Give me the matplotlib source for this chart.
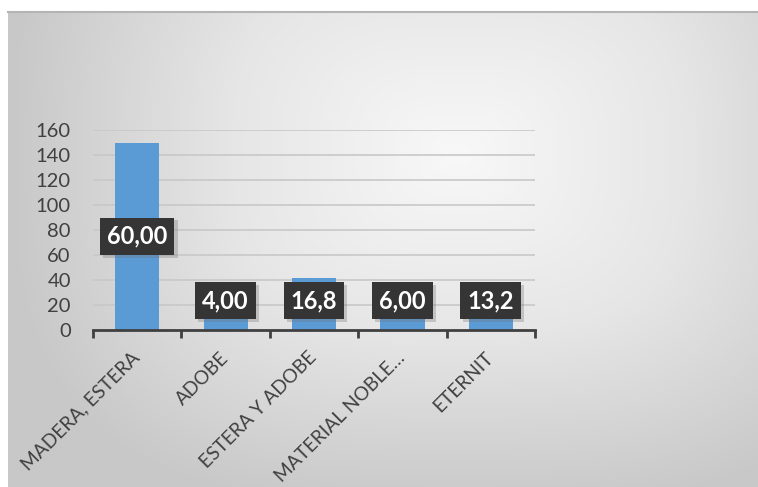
import numpy as np
import matplotlib.pyplot as plt
from matplotlib.colors import LinearSegmentedColormap
from matplotlib.lines import Line2D

categories = ["MADERA, ESTERA", "ADOBE", "ESTERA Y ADOBE", "MATERIAL NOBLE…", "ETERNIT"]
values = [150, 10, 42, 15, 33]
labels = ["60,00", "4,00", "16,8", "6,00", "13,2"]
yticks = [0, 20, 40, 60, 80, 100, 120, 140, 160]

W, H = 758, 487
fig = plt.figure(figsize=(W / 100, H / 100), dpi=100)
fig.patch.set_facecolor("white")

# gradient background (chart area)
bg = fig.add_axes([8 / W, 0, 750 / W, 475 / H])
ny, nx = 240, 380
yy, xx = np.mgrid[0:1:ny * 1j, 0:1:nx * 1j]
dx = np.abs(xx - 0.6) / 0.6
dy = np.abs(yy - 0.3) / 0.75
d = (dx ** 3 + dy ** 3) ** (1 / 3)
cmap = LinearSegmentedColormap.from_list("bg", ["#f8f8f8", "#e6e6e6", "#c8c8c8"])
bg.imshow(d, cmap=cmap, aspect="auto", extent=[0, 1, 0, 1], origin="upper", vmin=0, vmax=1.0)
bg.set_xlim(0, 1)
bg.set_ylim(0, 1)
bg.axis("off")
fig.add_artist(Line2D([8 / W, 1], [1 - 12 / H, 1 - 12 / H], color="#b4b4b4", lw=1.5))

ax = fig.add_axes([93 / W, 1 - 330 / H, (535 - 93) / W, (330 - 130) / H])
ax.patch.set_alpha(0)
x = np.arange(len(categories))
ax.bar(x, values, width=0.5, color="#5b9bd5", zorder=2)
ax.set_xlim(-0.5, len(categories) - 0.5)
ax.set_ylim(0, 160)
ax.set_yticks(yticks)
ax.set_yticklabels([str(t) for t in yticks], fontsize=14.5, color="#404040", family="Lato")
ax.tick_params(axis="y", length=0, pad=16)
for t in yticks[1:]:
    ax.axhline(t, color="#c8c8c8", lw=1.2, zorder=1)
for s in ["top", "right", "left"]:
    ax.spines[s].set_visible(False)
ax.spines["bottom"].set_color("#404040")
ax.spines["bottom"].set_linewidth(2)
ax.set_xticks(np.arange(-0.5, len(categories), 1.0), minor=False)
ax.set_xticklabels([])
ax.tick_params(axis="x", which="major", length=6, width=2, color="#404040", direction="out")
ax.set_xticks(x, minor=True)
ax.set_xticklabels(categories, minor=True, rotation=45, ha="right", va="center",
                   rotation_mode="anchor", fontsize=13.8, color="#404040", family="Lato")
ax.tick_params(axis="x", which="minor", length=0, pad=18)

for xi, v, lab in zip(x, values, labels):
    ypos = max(v / 2, 23.3)
    ax.text(xi + 0.035, ypos - 2.2, lab, ha="center", va="center", fontsize=17,
            fontweight="bold", color="#888888", family="Lato", zorder=3, alpha=0.0,
            bbox=dict(boxstyle="square,pad=0.3", fc="#6f6f6f", ec="none", alpha=0.3))
    ax.text(xi, ypos, lab, ha="center", va="center", fontsize=17, fontweight="bold",
            color="white", family="Lato", zorder=4,
            bbox=dict(boxstyle="square,pad=0.3", fc="#353535", ec="none"))

fig.savefig("out.png", dpi=100)
